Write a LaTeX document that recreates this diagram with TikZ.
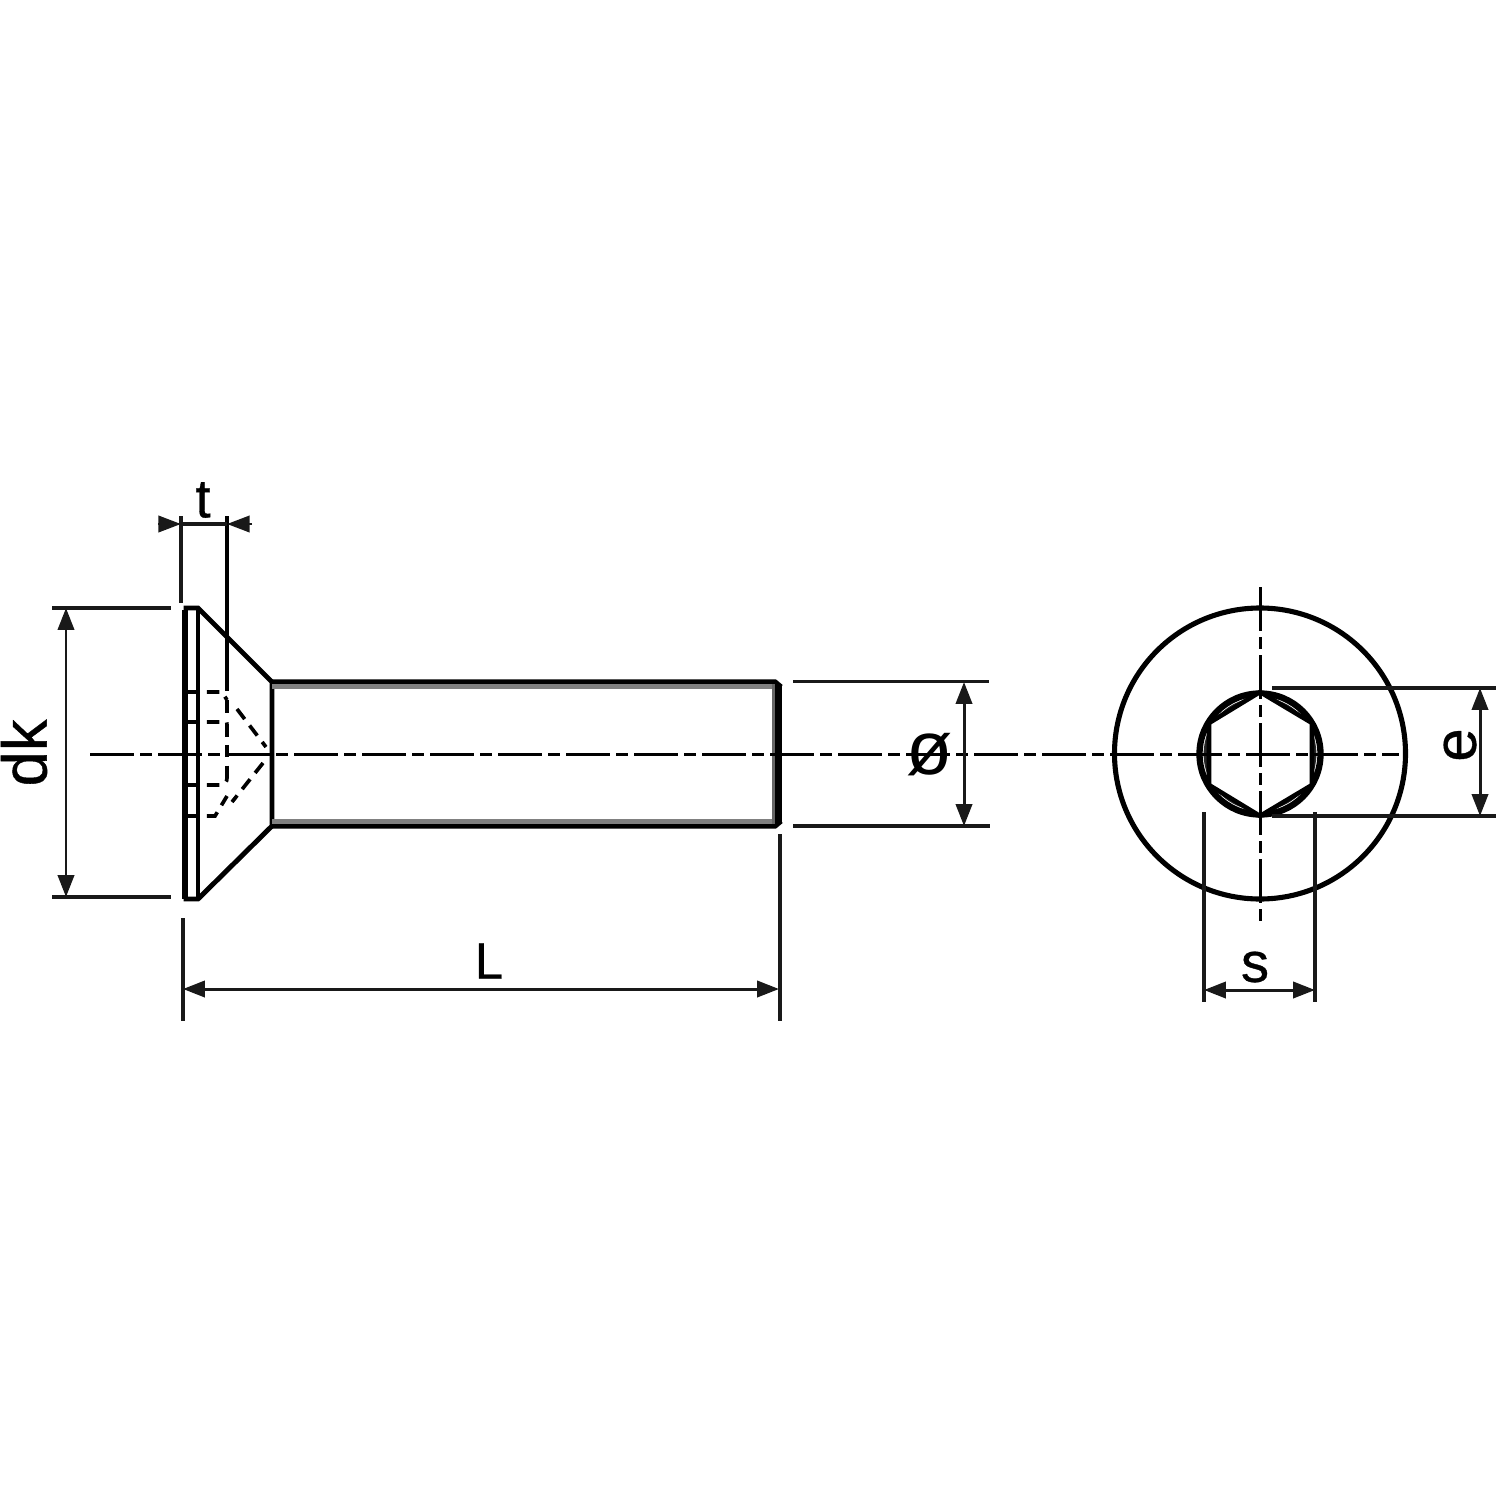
\documentclass[tikz,border=0pt]{standalone}
\usepackage{fontspec}
\setmainfont{Liberation Sans}
\newfontfamily\lblfont[FakeBold=0.6]{Liberation Sans}
\usetikzlibrary{arrows.meta}
\tikzset{
  px/.style={x=0.01cm,y=-0.01cm},
  body/.style={line width=1.4pt,line join=miter,black},
  thick body/.style={line width=1.75pt,black},
  extline/.style={line width=0.9pt,black!90},
  dimline/.style={line width=0.85pt,black!90,{Triangle[length=6.2pt,width=4.6pt]}-{Triangle[length=6.2pt,width=4.6pt]}},
  outarrow/.style={line width=0.85pt,black!90,-{Triangle[length=6.4pt,width=4.6pt]}},
  centerline/.style={line width=0.85pt,black,dash pattern=on 12.52pt off 1.7pt on 3.41pt off 1.71pt},
  hidden/.style={line width=1.05pt,black,dash pattern=on 3.6pt off 2.3pt},
  lbl/.style={inner sep=0pt,black},
}
\newcommand{\lblsize}[1]{\lblfont\fontsize{#1}{#1}\selectfont}
\begin{document}
\begin{tikzpicture}[px]
\useasboundingbox (0,0) rectangle (1500,1500);
\fill[white] (0,0) rectangle (1500,1500);
% head
\draw[thick body] (185,610) -- (185,899);
\draw[body] (198,608) -- (198,899);
\draw[body] (183.5,608) -- (198,608) -- (272,682) -- (272,826) -- (198,899) -- (183.5,899);
% shank
\draw[line width=1.5pt] (272,682) -- (775,682) -- (781,687);
\draw[line width=1.5pt] (272,826) -- (775,826) -- (781,821);
\draw[line width=1.2pt,black!50] (272,686.5) -- (774,686.5);
\draw[line width=1.2pt,black!50] (272,821.5) -- (774,821.5);
\draw[line width=0.9pt,black!60] (773.5,684) -- (773.5,824);
\draw[line width=1.9pt] (778.5,684) -- (778.5,824);
% socket hidden lines
\draw[hidden] (186,692) -- (222,692) -- (227,700);
\draw[hidden] (186,722) -- (220,722) .. controls (224,722) and (227,719) .. (227,724);
\draw[hidden] (186,785) -- (220,785) .. controls (225,785) and (227,782) .. (227,778);
\draw[hidden] (186,816) -- (215,816) -- (227,796);
\draw[hidden] (227,724) -- (227,778);
\draw[hidden] (227,700) -- (227,720);
\draw[hidden] (237,709) -- (266,747);
\draw[hidden] (263,763) -- (232,802);
\draw[line width=1pt] (227,608) -- (227,691);
% end view
\draw[line width=1.45pt] (1260,753.5) circle (145.5);
\draw[line width=1.8pt] (1260,754) circle (60.5);
\draw[line width=1.1pt,black!85] (1260,754) circle (54.5);
\draw[line width=1.3pt,fill=white] (1260,692) -- (1312,723) -- (1312,785) -- (1260,816) -- (1209,785) -- (1209,723) -- cycle;
% centre lines
\draw[centerline] (90,754) -- (1399,754);
\draw[line width=0.85pt] (228,754) -- (272,754);
\draw[centerline] (1260,587) -- (1260,921);
% t dimension
\coordinate (tl) at (181,524); \coordinate (tr) at (227,524);
\coordinate (tlo) at (158,524); \coordinate (tro) at (252,524);
\draw[extline] (181,516) -- (181,603);
\draw[line width=1pt] (227,516) -- (227,610);
\draw[extline] (tl) -- (tr);
\draw[outarrow] (tlo) -- (tl);
\draw[outarrow] (tro) -- (tr);
\node[lbl,font=\lblsize{15.5pt}] (t) at (203,500) {t};
% dk dimension
\coordinate (dka) at (66,608); \coordinate (dkb) at (66,897);
\draw[extline] (52,608) -- (171,608);
\draw[extline] (52,897) -- (171,897);
\draw[dimline] (dka) -- (dkb);
\node[lbl,rotate=90,font=\lblsize{18pt}] (dk) at (24,753) {dk};
% L dimension
\coordinate (La) at (183,989); \coordinate (Lb) at (779,989);
\draw[extline] (183,918) -- (183,1021);
\draw[extline] (780,834) -- (780,1021);
\draw[dimline] (La) -- (Lb);
\node[lbl,font=\lblsize{14.5pt}] (L) at (489,961) {L};
% diameter dimension
\coordinate (da) at (964,682); \coordinate (db) at (964,826);
\draw[extline] (793,681.5) -- (989,681.5);
\draw[extline] (793,826) -- (990,826);
\draw[dimline] (da) -- (db);
\node[lbl,font=\fontsize{21.5pt}{21.5pt}\selectfont] (dia) at (930,755) {ø};
% e dimension
\coordinate (ea) at (1480,688); \coordinate (eb) at (1480,816);
\draw[extline] (1272,688) -- (1496,688);
\draw[extline] (1272,816) -- (1496,816);
\draw[dimline] (ea) -- (eb);
\node[lbl,rotate=90,font=\lblsize{17pt}] (e) at (1460,745) {e};
% s dimension
\coordinate (sa) at (1204,990); \coordinate (sb) at (1315,990);
\draw[extline] (1204,812) -- (1204,1002);
\draw[extline] (1315,812) -- (1315,1002);
\draw[dimline] (sa) -- (sb);
\node[lbl,font=\lblsize{16pt}] (s) at (1255,967) {s};
\end{tikzpicture}
\end{document}
